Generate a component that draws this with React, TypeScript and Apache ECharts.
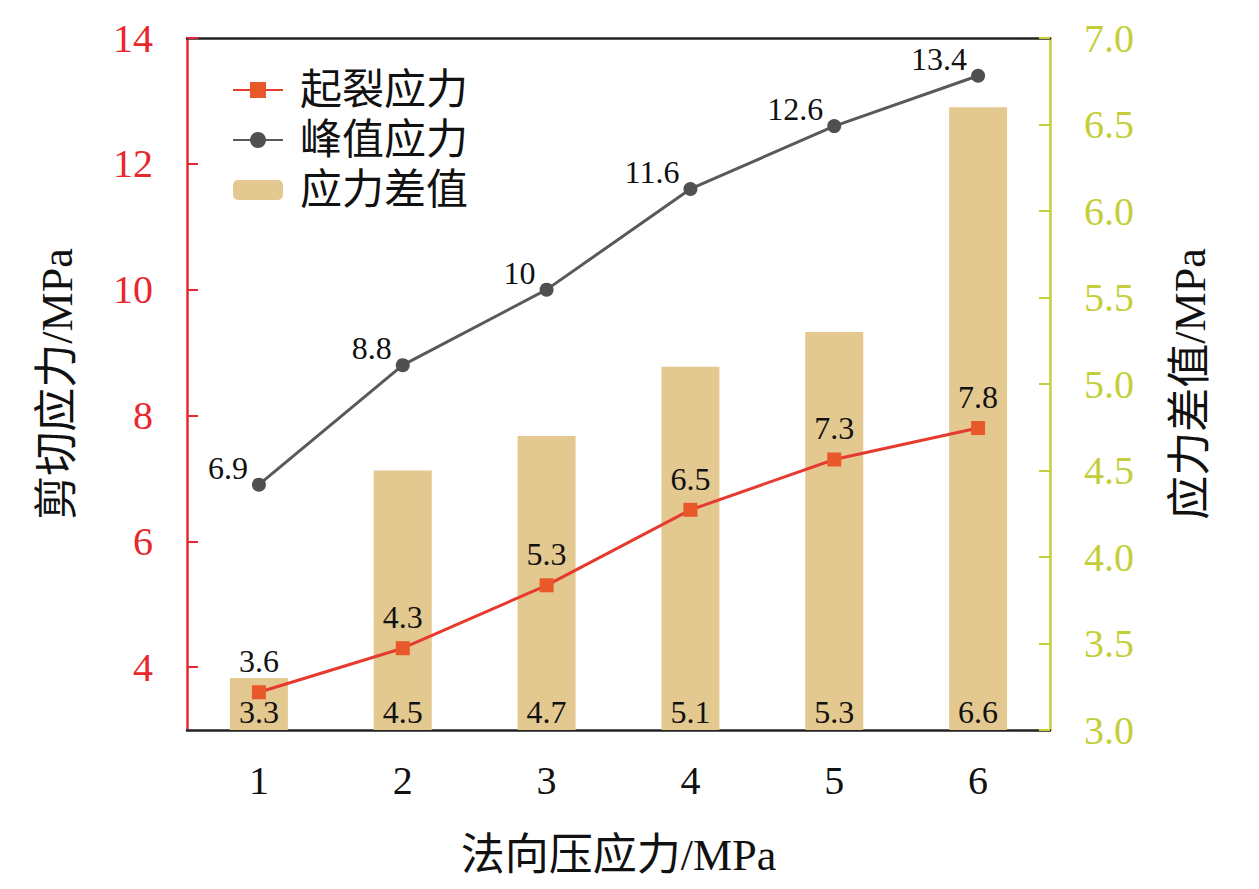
import { useEffect, useRef } from 'react'
import * as echarts from 'echarts'

const categories = ['1', '2', '3', '4', '5', '6']
const crackStress = [3.6, 4.3, 5.3, 6.5, 7.3, 7.8]
const peakStress = [6.9, 8.8, 10, 11.6, 12.6, 13.4]
const stressDiff = [3.3, 4.5, 4.7, 5.1, 5.3, 6.6]
const leftTicks = [4, 6, 8, 10, 12, 14]

const FONT = "'Liberation Serif', 'Noto Sans CJK SC', serif"
const RED = '#e8282c'
const LIME = '#c3cf3a'

export default function App() {
  const hostRef = useRef<HTMLDivElement | null>(null)

  useEffect(() => {
    const host = hostRef.current
    if (!host) return
    const chart = echarts.init(host, undefined, { renderer: 'svg' })

    chart.setOption({
      animation: false,
      textStyle: { fontFamily: FONT },
      grid: { left: 187, right: 209, top: 38, bottom: 159 },
      legend: {
        orient: 'vertical',
        left: 227,
        top: 63,
        itemWidth: 50,
        itemHeight: 20,
        itemGap: 6,
        data: ['起裂应力', '峰值应力', '应力差值'],
        textStyle: { fontSize: 42, color: '#111', fontFamily: FONT, lineHeight: 44, padding: [0, 0, 0, 12] },
      },
      xAxis: [
        {
          type: 'category',
          data: categories,
          name: '法向压应力/MPa',
          nameLocation: 'middle',
          nameGap: 103,
          nameTextStyle: { fontSize: 44, color: '#111', fontFamily: FONT },
          axisLine: { lineStyle: { color: '#222', width: 2.5 } },
          axisTick: { inside: true, length: 10, lineStyle: { color: '#222', width: 2 } },
          axisLabel: { fontSize: 40, color: '#111', margin: 30, fontFamily: FONT },
        },
        {
          type: 'category',
          position: 'top',
          data: categories,
          axisLine: { lineStyle: { color: '#222', width: 2.5 } },
          axisTick: { show: false },
          axisLabel: { show: false },
        },
      ],
      yAxis: [
        {
          type: 'value',
          min: 3,
          max: 14,
          interval: 1,
          position: 'left',
          name: '剪切应力/MPa',
          nameLocation: 'middle',
          nameRotate: 90,
          nameGap: 108,
          nameTextStyle: { fontSize: 44, color: '#111', fontFamily: FONT },
          axisLine: { show: true, lineStyle: { color: RED, width: 2.5 } },
          axisTick: { show: true, inside: true, length: 11, customValues: leftTicks, lineStyle: { color: RED, width: 2 } },
          axisLabel: { fontSize: 40, color: RED, margin: 34, customValues: leftTicks, fontFamily: FONT },
          splitLine: { show: false },
        },
        {
          type: 'value',
          min: 3,
          max: 7,
          interval: 0.5,
          position: 'right',
          name: '应力差值/MPa',
          nameLocation: 'middle',
          nameRotate: 90,
          nameGap: 118,
          nameTextStyle: { fontSize: 44, color: '#111', fontFamily: FONT },
          axisLine: { show: true, lineStyle: { color: LIME, width: 2.5 } },
          axisTick: { show: true, inside: true, length: 11, lineStyle: { color: LIME, width: 2 } },
          axisLabel: {
            fontSize: 40,
            color: LIME,
            margin: 34,
            fontFamily: FONT,
            formatter: (v: number) => v.toFixed(1),
          },
          splitLine: { show: false },
        },
      ],
      series: [
        {
          name: '应力差值',
          type: 'bar',
          yAxisIndex: 1,
          barWidth: 58,
          data: stressDiff,
          z: 1,
          itemStyle: { color: '#e3c88f' },
          label: {
            show: true,
            position: 'insideBottom',
            distance: 2,
            fontSize: 32,
            color: '#111',
            fontFamily: FONT,
          },
        },
        {
          name: '起裂应力',
          type: 'line',
          yAxisIndex: 0,
          data: crackStress,
          z: 3,
          symbol: 'rect',
          symbolSize: 14,
          lineStyle: { color: '#e63a2e', width: 3 },
          itemStyle: { color: '#e8582a' },
          label: {
            show: true,
            position: 'top',
            distance: 8,
            fontSize: 32,
            color: '#111',
            fontFamily: FONT,
          },
        },
        {
          name: '峰值应力',
          type: 'line',
          yAxisIndex: 0,
          data: peakStress,
          z: 3,
          symbol: 'circle',
          symbolSize: 14,
          lineStyle: { color: '#595959', width: 3 },
          itemStyle: { color: '#505050' },
          label: {
            show: true,
            position: 'left',
            distance: 4,
            offset: [0, -17],
            fontSize: 32,
            color: '#111',
            fontFamily: FONT,
          },
        },
      ],
    })

    return () => {
      chart.dispose()
    }
  }, [])

  return (
    <div
      ref={hostRef}
      style={{ position: 'fixed', left: 0, top: 0, width: 1259, height: 889, background: '#fff' }}
    />
  )
}
